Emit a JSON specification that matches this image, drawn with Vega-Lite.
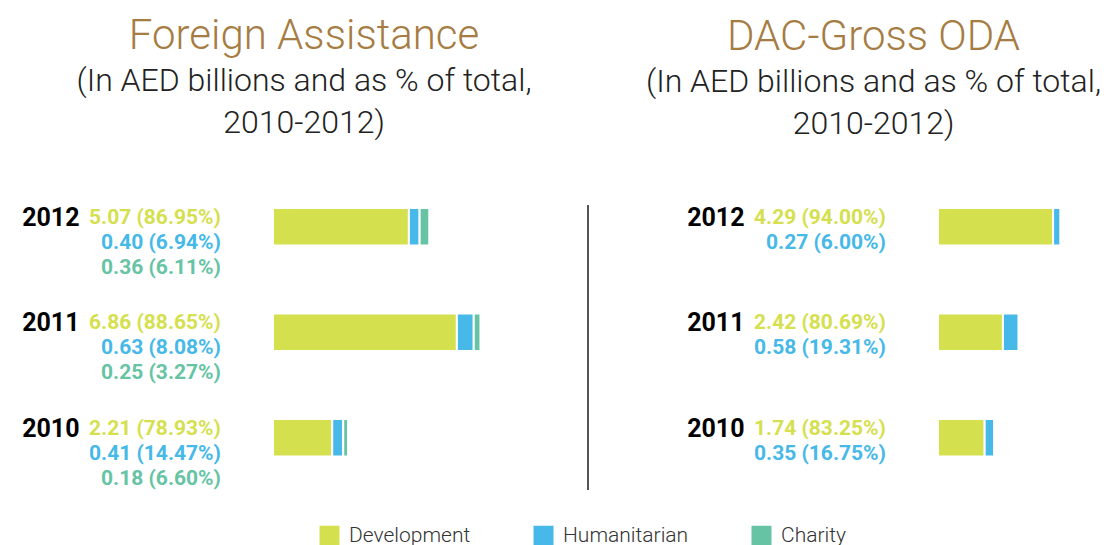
{
  "$schema": "https://vega.github.io/schema/vega-lite/v6.json",
  "padding": {"left": 21, "top": 15, "right": 0, "bottom": 0},
  "datasets": {
    "fa": [
      {"year": "2012", "category": "Development", "value": 5.07, "pct": 86.95},
      {"year": "2012", "category": "Humanitarian", "value": 0.40, "pct": 6.94},
      {"year": "2012", "category": "Charity", "value": 0.36, "pct": 6.11},
      {"year": "2011", "category": "Development", "value": 6.86, "pct": 88.65},
      {"year": "2011", "category": "Humanitarian", "value": 0.63, "pct": 8.08},
      {"year": "2011", "category": "Charity", "value": 0.25, "pct": 3.27},
      {"year": "2010", "category": "Development", "value": 2.21, "pct": 78.93},
      {"year": "2010", "category": "Humanitarian", "value": 0.41, "pct": 14.47},
      {"year": "2010", "category": "Charity", "value": 0.18, "pct": 6.60}
    ],
    "dac": [
      {"year": "2012", "category": "Development", "value": 4.29, "pct": 94.00},
      {"year": "2012", "category": "Humanitarian", "value": 0.27, "pct": 6.00},
      {"year": "2011", "category": "Development", "value": 2.42, "pct": 80.69},
      {"year": "2011", "category": "Humanitarian", "value": 0.58, "pct": 19.31},
      {"year": "2010", "category": "Development", "value": 1.74, "pct": 83.25},
      {"year": "2010", "category": "Humanitarian", "value": 0.35, "pct": 16.75}
    ]
  },
  "spacing": 56,
  "resolve": {"scale": {"x": "independent", "color": "shared"}, "legend": {"color": "shared"}},
  "hconcat": [
    {
      "width": 316,
      "height": 285,
      "title": {"text": "Foreign Assistance", "subtitle": ["(In AED billions and as % of total,", "2010-2012)"], "dx": -127},
      "data": {"name": "fa"},
      "transform": [
        {"calculate": "format(datum.value, '.2f') + ' (' + format(datum.pct, '.2f') + '%)'", "as": "label"},
        {"calculate": "indexof(['Development', 'Humanitarian', 'Charity'], datum.category)", "as": "ord"}
      ],
      "layer": [
        {
          "mark": {"type": "bar", "stroke": "white", "strokeWidth": 2},
          "encoding": {
            "y": {"field": "year", "type": "ordinal", "scale": {"domain": ["2012", "2011", "2010"], "paddingInner": 0.645, "paddingOuter": 0.173, "align": 0.08},
                  "axis": {"title": null, "ticks": false, "domain": false, "labelPadding": 194, "labelFontSize": 25, "labelFontWeight": "bold", "labelColor": "#000000", "labelOffset": -9, "labelFont": "Roboto"}},
            "x": {"field": "value", "type": "quantitative", "stack": "zero", "scale": {"domain": [0, 11.79], "nice": false}, "axis": null},
            "order": {"field": "ord", "type": "quantitative"},
            "color": {"field": "category", "type": "nominal", "scale": {"domain": ["Development", "Humanitarian", "Charity"], "range": ["#d5e04e", "#46b9e8", "#66c4a4"]},
                      "legend": {"orient": "none", "legendX": 46, "legendY": 320, "direction": "horizontal", "title": null, "symbolType": "square", "symbolSize": 400, "symbolStrokeWidth": 0, "symbolOpacity": 1, "labelFontSize": 21, "labelColor": "#333333", "labelFont": "Roboto", "labelFontWeight": 300, "columnPadding": 62, "labelOffset": 9}}
          }
        },
        {
          "transform": [{"filter": "datum.category === 'Development'"}],
          "mark": {"type": "text", "align": "right", "baseline": "middle", "dx": -52, "dy": -9, "fontWeight": "bold", "fontSize": 21, "font": "Roboto"},
          "encoding": {"y": {"field": "year", "type": "ordinal"}, "x": {"datum": 0, "type": "quantitative"}, "text": {"field": "label"}, "color": {"field": "category", "type": "nominal"}}
        },
        {
          "transform": [{"filter": "datum.category === 'Humanitarian'"}],
          "mark": {"type": "text", "align": "right", "baseline": "middle", "dx": -52, "dy": 16, "fontWeight": "bold", "fontSize": 21, "font": "Roboto"},
          "encoding": {"y": {"field": "year", "type": "ordinal"}, "x": {"datum": 0, "type": "quantitative"}, "text": {"field": "label"}, "color": {"field": "category", "type": "nominal"}}
        },
        {
          "transform": [{"filter": "datum.category === 'Charity'"}],
          "mark": {"type": "text", "align": "right", "baseline": "middle", "dx": -52, "dy": 41, "fontWeight": "bold", "fontSize": 21, "font": "Roboto"},
          "encoding": {"y": {"field": "year", "type": "ordinal"}, "x": {"datum": 0, "type": "quantitative"}, "text": {"field": "label"}, "color": {"field": "category", "type": "nominal"}}
        },
        {
          "mark": {"type": "rule", "color": "#555555", "strokeWidth": 1.5},
          "encoding": {"x": {"datum": 11.75, "type": "quantitative"}}
        }
      ]
    },
    {
      "width": 125,
      "height": 285,
      "title": {"text": "DAC-Gross ODA", "subtitle": ["(In AED billions and as % of total,", "2010-2012)"], "dx": -127},
      "data": {"name": "dac"},
      "transform": [
        {"calculate": "format(datum.value, '.2f') + ' (' + format(datum.pct, '.2f') + '%)'", "as": "label"},
        {"calculate": "indexof(['Development', 'Humanitarian', 'Charity'], datum.category)", "as": "ord"}
      ],
      "layer": [
        {
          "mark": {"type": "bar", "stroke": "white", "strokeWidth": 2},
          "encoding": {
            "y": {"field": "year", "type": "ordinal", "scale": {"domain": ["2012", "2011", "2010"], "paddingInner": 0.645, "paddingOuter": 0.173, "align": 0.08},
                  "axis": {"title": null, "ticks": false, "domain": false, "labelPadding": 194, "labelFontSize": 25, "labelFontWeight": "bold", "labelColor": "#000000", "labelOffset": -9, "labelFont": "Roboto"}},
            "x": {"field": "value", "type": "quantitative", "stack": "zero", "scale": {"domain": [0, 4.66], "nice": false}, "axis": null},
            "order": {"field": "ord", "type": "quantitative"},
            "color": {"field": "category", "type": "nominal"}
          }
        },
        {
          "transform": [{"filter": "datum.category === 'Development'"}],
          "mark": {"type": "text", "align": "right", "baseline": "middle", "dx": -52, "dy": -9, "fontWeight": "bold", "fontSize": 21, "font": "Roboto"},
          "encoding": {"y": {"field": "year", "type": "ordinal"}, "x": {"datum": 0, "type": "quantitative"}, "text": {"field": "label"}, "color": {"field": "category", "type": "nominal"}}
        },
        {
          "transform": [{"filter": "datum.category === 'Humanitarian'"}],
          "mark": {"type": "text", "align": "right", "baseline": "middle", "dx": -52, "dy": 16, "fontWeight": "bold", "fontSize": 21, "font": "Roboto"},
          "encoding": {"y": {"field": "year", "type": "ordinal"}, "x": {"datum": 0, "type": "quantitative"}, "text": {"field": "label"}, "color": {"field": "category", "type": "nominal"}}
        }
      ]
    }
  ],
  "config": {
    "font": "Roboto",
    "view": {"stroke": null},
    "title": {"font": "Roboto", "fontSize": 42, "fontWeight": 300, "color": "#a67c42", "anchor": "middle", "subtitleFont": "Roboto", "subtitleFontSize": 32, "subtitleFontWeight": 300, "subtitleColor": "#222222", "subtitleLineHeight": 42, "subtitlePadding": 8, "offset": 64}
  }
}
